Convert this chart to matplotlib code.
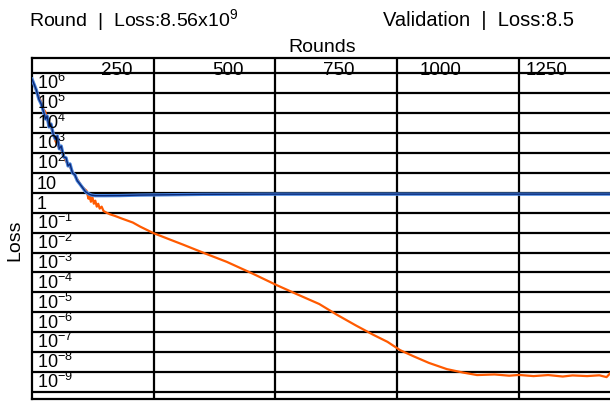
import numpy as np
import matplotlib.pyplot as plt

plt.rcParams['font.family'] = ['Liberation Sans', 'DejaVu Sans']
plt.rcParams['mathtext.fontset'] = 'custom'
plt.rcParams['mathtext.rm'] = 'Liberation Sans'
plt.rcParams['mathtext.it'] = 'Liberation Sans:italic'

# training loss per round
train_rounds = [0, 4, 9, 15, 18, 23, 27, 33, 38, 43, 48, 53, 58, 64, 69, 74, 80, 88, 95,
                101, 107, 112, 116, 118, 121, 124, 127, 130, 133, 136, 139, 143, 147, 153,
                160, 170, 185, 207, 222, 249, 280, 310, 359, 400, 455, 501, 544, 590, 626,
                665, 701, 730, 756, 783, 815, 852, 885, 914, 950, 980, 1000, 1030, 1060,
                1090, 1110, 1140, 1165, 1180, 1187]
train_loss = [5.0e6, 2.8e6, 1.3e6, 6.3e5, 4.0e5, 1.6e5, 1.2e5, 3.5e4, 2.2e4, 1.1e4, 4.0e3,
              2.2e3, 1.8e3, 8.7e2, 4.0e2, 2.8e2, 1.6e2, 71, 40, 22, 16, 12.6, 5.0, 7.1, 3.5,
              6.3, 2.8, 4.0, 2.0, 2.8, 1.6, 2.0, 1.2, 1.0, 0.83, 0.69, 0.5, 0.32, 0.2, 0.095,
              0.048, 0.025, 8.3e-3, 3.4e-3, 8.3e-4, 2.4e-4, 8.1e-5, 2.6e-5, 7.6e-6, 2.2e-6,
              7.4e-7, 3.3e-7, 1.26e-7, 6.3e-8, 2.9e-8, 1.41e-8, 9.5e-9, 7.1e-9, 7.6e-9, 6.6e-9,
              7.2e-9, 6.3e-9, 7.1e-9, 6.0e-9, 6.8e-9, 6.3e-9, 6.9e-9, 5.6e-9, 8.56e-9]

# validation loss per round
val_rounds = [0, 5, 9, 14, 19, 24, 28, 31, 35, 39, 44, 48, 52, 56, 60, 65, 70, 74, 78, 83,
              88, 93, 98, 104, 110, 116, 122, 130, 150, 180, 220, 280, 350, 500, 800, 1187]
val_loss = [5.0e6, 2.5e6, 1.4e6, 5.0e5, 2.8e5, 1.1e5, 5.0e4, 7.1e4, 2.0e4, 2.8e4, 7.9e3,
            5.0e3, 7.1e3, 1.6e3, 2.2e3, 6.3e2, 5.6e2, 2.2e2, 2.8e2, 100, 79, 40, 28, 17.8,
            11.2, 8.9, 7.6, 7.1, 7.1, 7.2, 7.6, 7.9, 8.3, 8.5, 8.5, 8.5]

y_decades = list(range(-9, 8))
y_labels = {6: '10$^{\\mathregular{6}}$', 5: '10$^{\\mathregular{5}}$', 4: '10$^{\\mathregular{4}}$',
            3: '10$^{\\mathregular{3}}$', 2: '10$^{\\mathregular{2}}$', 1: '10', 0: '1',
            -1: '10$^{\\mathregular{-1}}$', -2: '10$^{\\mathregular{-2}}$',
            -3: '10$^{\\mathregular{-3}}$', -4: '10$^{\\mathregular{-4}}$',
            -5: '10$^{\\mathregular{-5}}$', -6: '10$^{\\mathregular{-6}}$',
            -7: '10$^{\\mathregular{-7}}$', -8: '10$^{\\mathregular{-8}}$',
            -9: '10$^{\\mathregular{-9}}$'}
x_ticks = [250, 500, 750, 1000, 1250]
x_labels = ['250', '500', '750', '1000', '1250']
x_label_pos = [175, 403, 630, 840, 1056]

fig = plt.figure(figsize=(6.1, 4.02), dpi=100)
ax = fig.add_axes([32 / 610, 2 / 402, 578 / 610, 341 / 402])

ax.set_yscale('log')
ax.set_xlim(0, 1187)
ax.set_ylim(10 ** -9.35, 10 ** 7.76)

# grid
for d in y_decades:
    ax.axhline(10.0 ** d, color='black', lw=1.6, zorder=1)
for t in x_ticks:
    ax.axvline(t, color='black', lw=1.6, zorder=1)

ax.plot(train_rounds, train_loss, color='#ff5a00', lw=1.6, zorder=3)
ax.plot(val_rounds, val_loss, color='#4a88e0', lw=2.4, zorder=4)
ax.plot(val_rounds, val_loss, color='#0d2a78', lw=1.0, zorder=5)

ax.set_xticks([])
ax.set_yticks([])
ax.minorticks_off()
for side in ['left', 'top', 'bottom']:
    ax.spines[side].set_linewidth(1.6)
ax.spines['right'].set_visible(False)

# decade labels inside the plot, sitting on their grid line
for d, lab in y_labels.items():
    ax.text(10, 10.0 ** d * 1.08, lab, fontsize=13, ha='left', va='bottom', zorder=6)

for xp, lab in zip(x_label_pos, x_labels):
    ax.text(xp, 10 ** 7.17, lab, fontsize=13.5, ha='center', va='center', zorder=6)

fig.text(322 / 610, 1 - 48 / 402, 'Rounds', fontsize=14, ha='center', va='center')
fig.text(15 / 610, 1 - 240 / 402, 'Loss', fontsize=14, rotation=90, ha='center', va='center')
fig.text(29 / 610, 1 - 20 / 402, 'Round  |  Loss:8.56x10$^{\\mathregular{9}}$', fontsize=14,
         ha='left', va='center')
fig.text(383 / 610, 1 - 20 / 402, 'Validation  |  Loss:8.5', fontsize=14.5,
         ha='left', va='center')

plt.savefig('out.png', dpi=100)
